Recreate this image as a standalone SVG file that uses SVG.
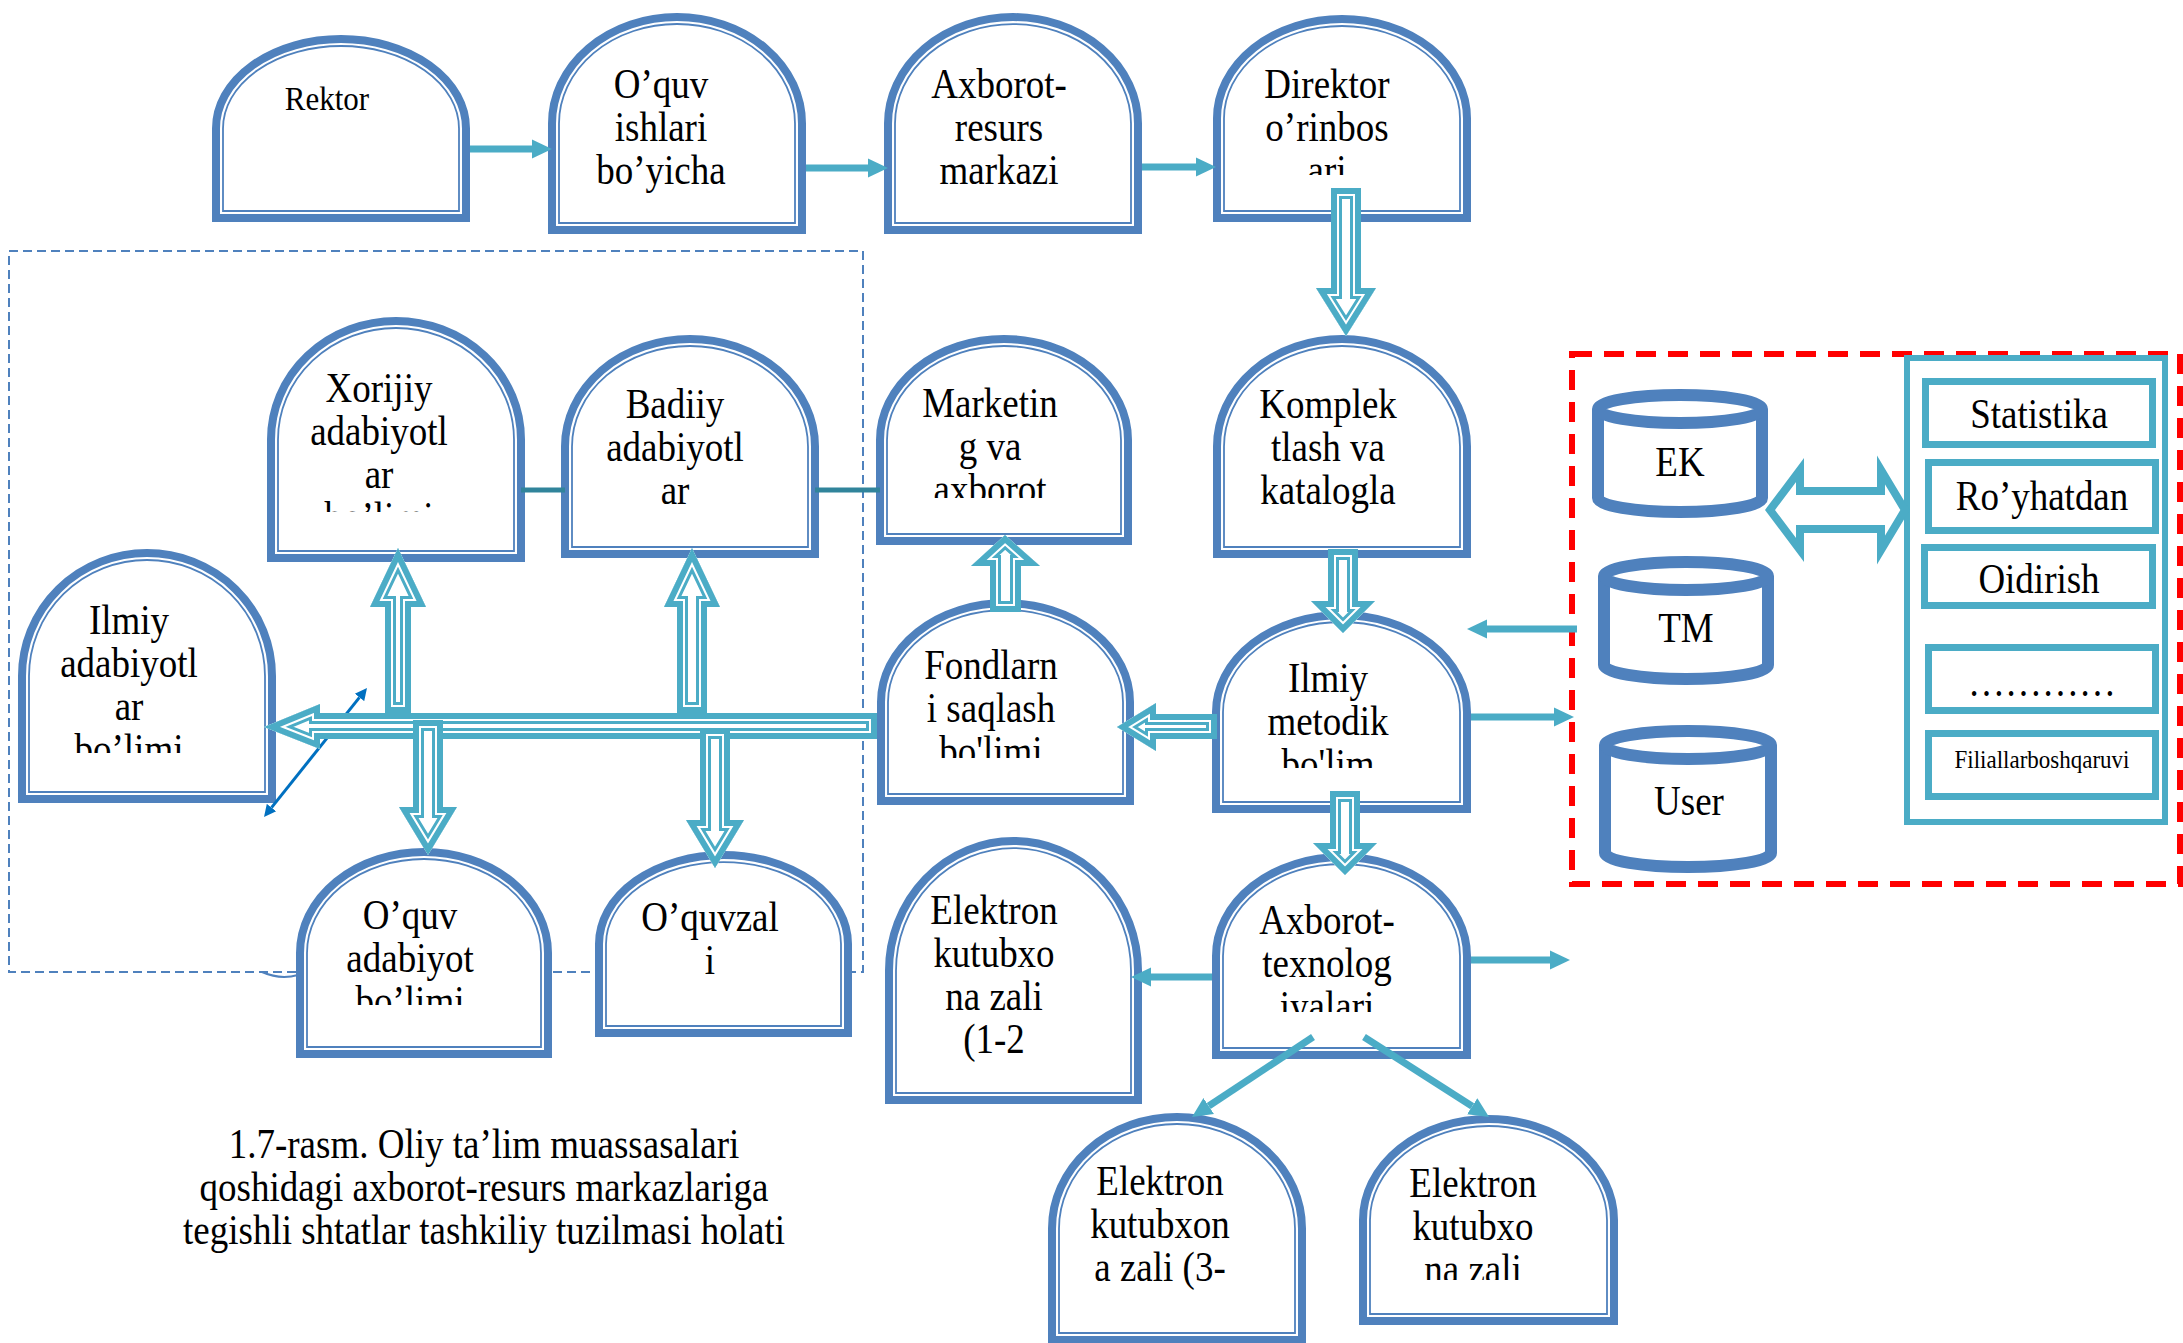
<svg xmlns="http://www.w3.org/2000/svg" width="2183" height="1343" viewBox="0 0 2183 1343">
<style>
.no{fill:#fff;stroke:#4F81BD;stroke-width:8}
.ni{fill:none;stroke:#4F81BD;stroke-width:1.8}
.t{font-family:"Liberation Serif","Times New Roman",serif;font-size:37px;fill:#000;text-anchor:middle}
.ln{fill:none;stroke:#4BACC6;stroke-width:7;marker-end:url(#ah)}
.bk1{fill:#fff;stroke:#4BACC6;stroke-width:22;stroke-linejoin:miter;stroke-miterlimit:30}
.bk2{fill:none;stroke:#fff;stroke-width:16;stroke-linejoin:miter;stroke-miterlimit:30}
.bk3{fill:none;stroke:#4BACC6;stroke-width:12;stroke-linejoin:miter;stroke-miterlimit:30}
.cyl{fill:#fff;stroke:#4F81BD;stroke-width:12}
.pb{fill:none;stroke:#4BACC6;stroke-width:7}
.teal{fill:none;stroke:#31849B;stroke-width:5}
</style>
<defs>
<marker id="ah" markerUnits="userSpaceOnUse" markerWidth="22" markerHeight="22" viewBox="0 0 22 22" refX="0" refY="11" orient="auto"><path d="M0,1.5 L20,11 L0,20.5 Z" fill="#4BACC6"/></marker>
<marker id="ahb" markerUnits="userSpaceOnUse" markerWidth="14" markerHeight="14" viewBox="0 0 14 14" refX="0" refY="7" orient="auto-start-reverse"><path d="M0,1 L12,7 L0,13 Z" fill="#0070C0"/></marker>
<polygon id="pA" points="1331,188 1361,188 1361,288 1376,288 1346,336 1316,288 1331,288"/>
<polygon id="pB" points="1328,549 1358,549 1358,601 1375,601 1343,633 1311,601 1328,601"/>
<polygon id="pC" points="1330,791 1360,791 1360,843 1377,843 1345,875 1313,843 1330,843"/>
<polygon id="pD" points="1217,714 1217,739 1156,739 1156,751 1117,727 1156,703 1156,714"/>
<polygon id="pE" points="990,612 990,566 971,566 1005,535 1040,566 1021,566 1021,612"/>
<polygon id="pF" points="877,713 877,739 320,739 320,749 264,727 320,704 320,713"/>
<polygon id="pG" points="385,713 385,607 370,607 398,548 426,607 411,607 411,713"/>
<polygon id="pH" points="677,713 677,607 664,607 692,548 720,607 707,607 707,713"/>
<polygon id="pI" points="413,720 443,720 443,807 457,807 428,855 399,807 413,807"/>
<polygon id="pJ" points="700,728 730,728 730,820 744,820 715,868 686,820 700,820"/>
<clipPath id="cA"><use href="#pA"/></clipPath>
<clipPath id="cB"><use href="#pB"/></clipPath>
<clipPath id="cC"><use href="#pC"/></clipPath>
<clipPath id="cD"><use href="#pD"/></clipPath>
<clipPath id="cE"><use href="#pE"/></clipPath>
<clipPath id="cF"><use href="#pF"/></clipPath>
<clipPath id="cG"><use href="#pG"/></clipPath>
<clipPath id="cH"><use href="#pH"/></clipPath>
<clipPath id="cI"><use href="#pI"/></clipPath>
<clipPath id="cJ"><use href="#pJ"/></clipPath>
<clipPath id="kDir"><rect x="1213" y="15" width="258" height="160"/></clipPath>
<clipPath id="kXor"><rect x="267" y="317" width="258" height="195"/></clipPath>
<clipPath id="kMar"><rect x="876" y="335" width="256" height="163"/></clipPath>
<clipPath id="kIla"><rect x="18" y="549" width="258" height="204"/></clipPath>
<clipPath id="kFon"><rect x="877" y="599" width="257" height="159"/></clipPath>
<clipPath id="kIlm"><rect x="1212" y="611" width="259" height="157"/></clipPath>
<clipPath id="kOqa"><rect x="296" y="848" width="256" height="157"/></clipPath>
<clipPath id="kAxt"><rect x="1212" y="853" width="259" height="159"/></clipPath>
<clipPath id="kEr"><rect x="1359" y="1115" width="259" height="165"/></clipPath>
</defs>
<rect width="2183" height="1343" fill="#fff"/>

<g id="containers">
<rect x="9" y="251" width="854" height="721" fill="none" stroke="#4F81BD" stroke-width="2" stroke-dasharray="9 5"/>
<path d="M262 972 Q280 980 298 975" fill="none" stroke="#4F81BD" stroke-width="2"/>
<rect x="1572" y="354" width="608" height="530" fill="none" stroke="#FF0000" stroke-width="6" stroke-dasharray="20 12"/>
</g>

<g id="rektor">
<path class="no" d="M216 128.5 A125 89.5 0 0 1 466 128.5 V218 H216 Z"/>
<path class="ni" d="M223 128.5 A118 82.5 0 0 1 459 128.5 V211 H223 Z"/>
<text class="t" style="font-size:31px" transform="translate(327 110) scale(1 1.12)">Rektor</text>
</g>
<g id="oquv-ishlari">
<path class="no" d="M552 123.5 A125 106.5 0 0 1 802 123.5 V230 H552 Z"/>
<path class="ni" d="M559 123.5 A118 99.5 0 0 1 795 123.5 V223 H559 Z"/>
<text class="t" transform="translate(661 98) scale(1 1.12)"><tspan x="0">O’quv</tspan><tspan x="0" dy="38.5">ishlari</tspan><tspan x="0" dy="38.5">bo’yicha</tspan></text>
</g>
<g id="axborot-resurs">
<path class="no" d="M888 123.5 A125 106.5 0 0 1 1138 123.5 V230 H888 Z"/>
<path class="ni" d="M895 123.5 A118 99.5 0 0 1 1131 123.5 V223 H895 Z"/>
<text class="t" transform="translate(999 98) scale(1 1.12)"><tspan x="0">Axborot-</tspan><tspan x="0" dy="38.5">resurs</tspan><tspan x="0" dy="38.5">markazi</tspan></text>
</g>
<g id="direktor">
<path class="no" d="M1217 118.5 A125 99.5 0 0 1 1467 118.5 V218 H1217 Z"/>
<path class="ni" d="M1224 118.5 A118 92.5 0 0 1 1460 118.5 V211 H1224 Z"/>
<g clip-path="url(#kDir)"><text class="t" transform="translate(1327 98) scale(1 1.12)"><tspan x="0">Direktor</tspan><tspan x="0" dy="38.5">o’rinbos</tspan><tspan x="0" dy="38.5">ari</tspan></text></g>
</g>
<g id="xorijiy">
<path class="no" d="M271 439.5 A125 118.5 0 0 1 521 439.5 V558 H271 Z"/>
<path class="ni" d="M278 439.5 A118 111.5 0 0 1 514 439.5 V551 H278 Z"/>
<g clip-path="url(#kXor)"><text class="t" transform="translate(379 402) scale(1 1.12)"><tspan x="0">Xorijiy</tspan><tspan x="0" dy="38.5">adabiyotl</tspan><tspan x="0" dy="38.5">ar</tspan><tspan x="0" dy="38.5">bo’limi</tspan></text></g>
</g>
<g id="badiiy">
<path class="no" d="M565 446.5 A125 107.5 0 0 1 815 446.5 V554 H565 Z"/>
<path class="ni" d="M572 446.5 A118 100.5 0 0 1 808 446.5 V547 H572 Z"/>
<text class="t" transform="translate(675 418) scale(1 1.12)"><tspan x="0">Badiiy</tspan><tspan x="0" dy="38.5">adabiyotl</tspan><tspan x="0" dy="38.5">ar</tspan></text>
</g>
<g id="marketing">
<path class="no" d="M880 440 A124 101 0 0 1 1128 440 V541 H880 Z"/>
<path class="ni" d="M887 440 A117 94 0 0 1 1121 440 V534 H887 Z"/>
<g clip-path="url(#kMar)"><text class="t" transform="translate(990 417) scale(1 1.12)"><tspan x="0">Marketin</tspan><tspan x="0" dy="38.5">g va</tspan><tspan x="0" dy="38.5">axborot</tspan></text></g>
</g>
<g id="komplek">
<path class="no" d="M1217 446.5 A125 107.5 0 0 1 1467 446.5 V554 H1217 Z"/>
<path class="ni" d="M1224 446.5 A118 100.5 0 0 1 1460 446.5 V547 H1224 Z"/>
<text class="t" transform="translate(1328 418) scale(1 1.12)"><tspan x="0">Komplek</tspan><tspan x="0" dy="38.5">tlash va</tspan><tspan x="0" dy="38.5">katalogla</tspan></text>
</g>
<g id="ilmiy-adabiyotlar">
<path class="no" d="M22 676 A125 123 0 0 1 272 676 V799 H22 Z"/>
<path class="ni" d="M29 676 A118 116 0 0 1 265 676 V792 H29 Z"/>
<g clip-path="url(#kIla)"><text class="t" transform="translate(129 634) scale(1 1.12)"><tspan x="0">Ilmiy</tspan><tspan x="0" dy="38.5">adabiyotl</tspan><tspan x="0" dy="38.5">ar</tspan><tspan x="0" dy="38.5">bo’limi</tspan></text></g>
</g>
<g id="fondlarni">
<path class="no" d="M881 702 A124.5 99 0 0 1 1130 702 V801 H881 Z"/>
<path class="ni" d="M888 702 A117.5 92 0 0 1 1123 702 V794 H888 Z"/>
<g clip-path="url(#kFon)"><text class="t" transform="translate(991 679) scale(1 1.12)"><tspan x="0">Fondlarn</tspan><tspan x="0" dy="38.5">i saqlash</tspan><tspan x="0" dy="38.5">bo'limi</tspan></text></g>
</g>
<g id="ilmiy-metodik">
<path class="no" d="M1216 712 A125.5 97 0 0 1 1467 712 V809 H1216 Z"/>
<path class="ni" d="M1223 712 A118.5 90 0 0 1 1460 712 V802 H1223 Z"/>
<g clip-path="url(#kIlm)"><text class="t" transform="translate(1328 692) scale(1 1.12)"><tspan x="0">Ilmiy</tspan><tspan x="0" dy="38.5">metodik</tspan><tspan x="0" dy="38.5">bo'lim</tspan></text></g>
</g>
<g id="oquv-adabiyot">
<path class="no" d="M300 953 A124 101 0 0 1 548 953 V1054 H300 Z"/>
<path class="ni" d="M307 953 A117 94 0 0 1 541 953 V1047 H307 Z"/>
<g clip-path="url(#kOqa)"><text class="t" transform="translate(410 929) scale(1 1.12)"><tspan x="0">O’quv</tspan><tspan x="0" dy="38.5">adabiyot</tspan><tspan x="0" dy="38.5">bo’limi</tspan></text></g>
</g>
<g id="oquvzali">
<path class="no" d="M599 944 A124.5 89 0 0 1 848 944 V1033 H599 Z"/>
<path class="ni" d="M606 944 A117.5 82 0 0 1 841 944 V1026 H606 Z"/>
<text class="t" transform="translate(710 931) scale(1 1.12)"><tspan x="0">O’quvzal</tspan><tspan x="0" dy="38.5">i</tspan></text>
</g>
<g id="elektron-1-2">
<path class="no" d="M889 970.5 A124.5 129.5 0 0 1 1138 970.5 V1100 H889 Z"/>
<path class="ni" d="M896 970.5 A117.5 122.5 0 0 1 1131 970.5 V1093 H896 Z"/>
<text class="t" transform="translate(994 924) scale(1 1.12)"><tspan x="0">Elektron</tspan><tspan x="0" dy="38.5">kutubxo</tspan><tspan x="0" dy="38.5">na zali</tspan><tspan x="0" dy="38.5">(1-2</tspan></text>
</g>
<g id="axborot-texnologiyalari">
<path class="no" d="M1216 956 A125.5 99 0 0 1 1467 956 V1055 H1216 Z"/>
<path class="ni" d="M1223 956 A118.5 92 0 0 1 1460 956 V1048 H1223 Z"/>
<g clip-path="url(#kAxt)"><text class="t" transform="translate(1327 934) scale(1 1.12)"><tspan x="0">Axborot-</tspan><tspan x="0" dy="38.5">texnolog</tspan><tspan x="0" dy="38.5">iyalari</tspan></text></g>
</g>
<g id="elektron-3-4">
<path class="no" d="M1052 1228.5 A125 111.5 0 0 1 1302 1228.5 V1340 H1052 Z"/>
<path class="ni" d="M1059 1228.5 A118 104.5 0 0 1 1295 1228.5 V1333 H1059 Z"/>
<text class="t" transform="translate(1160 1195) scale(1 1.12)"><tspan x="0">Elektron</tspan><tspan x="0" dy="38.5">kutubxon</tspan><tspan x="0" dy="38.5">a zali (3-</tspan></text>
</g>
<g id="elektron-right">
<path class="no" d="M1363 1220 A125.5 101 0 0 1 1614 1220 V1321 H1363 Z"/>
<path class="ni" d="M1370 1220 A118.5 94 0 0 1 1607 1220 V1314 H1370 Z"/>
<g clip-path="url(#kEr)"><text class="t" transform="translate(1473 1197) scale(1 1.12)"><tspan x="0">Elektron</tspan><tspan x="0" dy="38.5">kutubxo</tspan><tspan x="0" dy="38.5">na zali</tspan></text></g>
</g>

<g id="db-ek">
<path class="cyl" d="M1598 409 V498 A82 14 0 0 0 1762 498 V409"/>
<ellipse class="cyl" cx="1680" cy="409" rx="82" ry="14"/>
<text class="t" transform="translate(1680 476) scale(1 1.12)">EK</text>
</g>
<g id="db-tm">
<path class="cyl" d="M1604 576 V665 A82 14 0 0 0 1768 665 V576"/>
<ellipse class="cyl" cx="1686" cy="576" rx="82" ry="14"/>
<text class="t" transform="translate(1686 642) scale(1 1.12)">TM</text>
</g>
<g id="db-user">
<path class="cyl" d="M1605 745 V853 A83 14 0 0 0 1771 853 V745"/>
<ellipse class="cyl" cx="1688" cy="745" rx="83" ry="14"/>
<text class="t" transform="translate(1689 815) scale(1 1.12)">User</text>
</g>

<g id="modules-panel">
<rect x="1907" y="358" width="258" height="464" fill="none" stroke="#4BACC6" stroke-width="6"/>
<rect class="pb" x="1925.5" y="381.5" width="227" height="63"/>
<text class="t" transform="translate(2039 428) scale(1 1.12)">Statistika</text>
<rect class="pb" x="1928.5" y="462.5" width="227" height="68"/>
<text class="t" transform="translate(2042 510) scale(1 1.12)">Ro’yhatdan</text>
<rect class="pb" x="1924.5" y="547.5" width="228" height="58"/>
<text class="t" transform="translate(2039 593) scale(1 1.12)">Oidirish</text>
<rect class="pb" x="1928.5" y="647.5" width="227" height="63"/>
<text class="t" transform="translate(2042 696) scale(1 1.12)">…………</text>
<rect class="pb" x="1928.5" y="733.5" width="227" height="63"/>
<text class="t" style="font-size:23px" transform="translate(2042 768) scale(1 1.12)">Filiallarboshqaruvi</text>
</g>

<g id="connectors">
<path class="teal" d="M521 490 H565 M815 490 H880"/>
<path class="ln" d="M470 149 H532"/>
<path class="ln" d="M806 168 H868"/>
<path class="ln" d="M1142 167 H1196"/>
<path class="ln" d="M1577 629 H1487"/>
<path class="ln" d="M1471 717 H1554"/>
<path class="ln" d="M1212 977 H1151"/>
<path class="ln" d="M1471 960 H1550"/>
<path class="ln" d="M1313 1037 L1208.7 1106"/>
<path class="ln" d="M1364 1037 L1472.2 1106.2"/>
<path d="M359.5 697.4 L271.5 807.6" fill="none" stroke="#0070C0" stroke-width="3" marker-start="url(#ahb)" marker-end="url(#ahb)"/>
<polygon points="1770,510 1800,470 1800,491 1881,491 1881,470 1905,510 1881,550 1881,529 1800,529 1800,550" fill="#fff" stroke="#4BACC6" stroke-width="8" stroke-linejoin="miter"/>
<g clip-path="url(#cF)"><use href="#pF" class="bk1"/><use href="#pF" class="bk2"/><use href="#pF" class="bk3"/></g>
<g clip-path="url(#cG)"><use href="#pG" class="bk1"/><use href="#pG" class="bk2"/><use href="#pG" class="bk3"/></g>
<g clip-path="url(#cH)"><use href="#pH" class="bk1"/><use href="#pH" class="bk2"/><use href="#pH" class="bk3"/></g>
<g clip-path="url(#cI)"><use href="#pI" class="bk1"/><use href="#pI" class="bk2"/><use href="#pI" class="bk3"/></g>
<g clip-path="url(#cJ)"><use href="#pJ" class="bk1"/><use href="#pJ" class="bk2"/><use href="#pJ" class="bk3"/></g>
<g clip-path="url(#cA)"><use href="#pA" class="bk1"/><use href="#pA" class="bk2"/><use href="#pA" class="bk3"/></g>
<g clip-path="url(#cB)"><use href="#pB" class="bk1"/><use href="#pB" class="bk2"/><use href="#pB" class="bk3"/></g>
<g clip-path="url(#cC)"><use href="#pC" class="bk1"/><use href="#pC" class="bk2"/><use href="#pC" class="bk3"/></g>
<g clip-path="url(#cD)"><use href="#pD" class="bk1"/><use href="#pD" class="bk2"/><use href="#pD" class="bk3"/></g>
<g clip-path="url(#cE)"><use href="#pE" class="bk1"/><use href="#pE" class="bk2"/><use href="#pE" class="bk3"/></g>
</g>

<g id="caption">
<text class="t" transform="translate(484 1158) scale(1 1.12)"><tspan x="0">1.7-rasm. Oliy ta’lim muassasalari</tspan><tspan x="0" dy="38.5">qoshidagi axborot-resurs markazlariga</tspan><tspan x="0" dy="38.5">tegishli shtatlar tashkiliy tuzilmasi holati</tspan></text>
</g>
</svg>
